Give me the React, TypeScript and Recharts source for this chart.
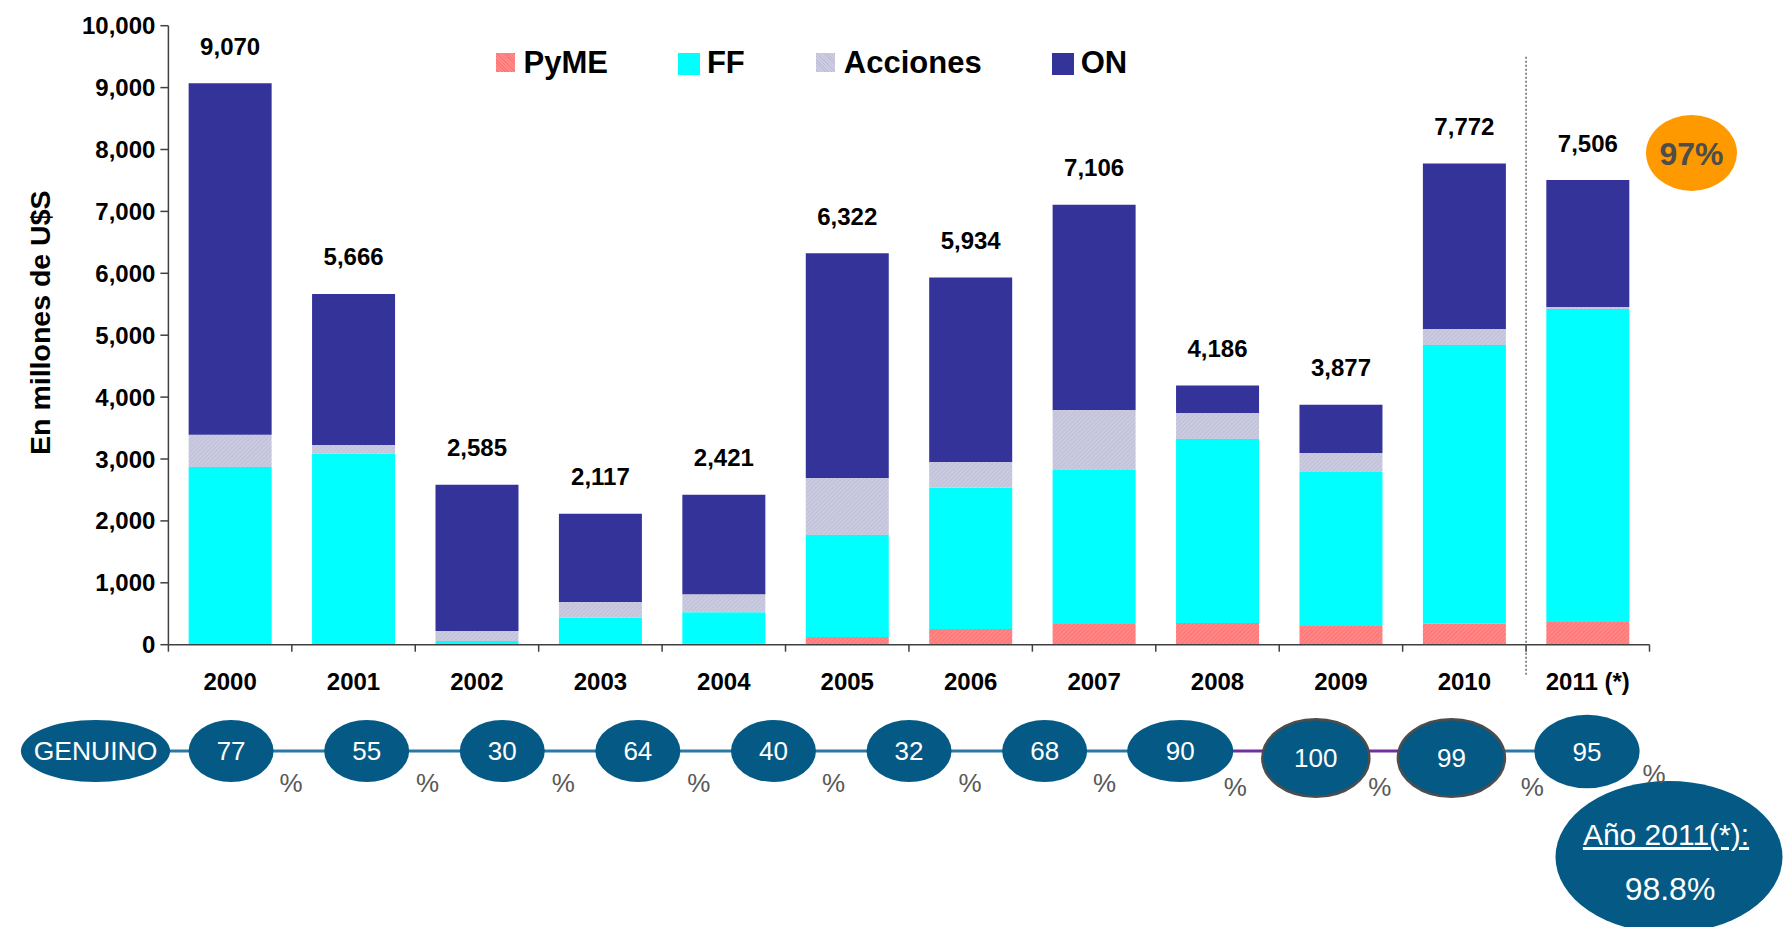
import React from 'react';
import {
  ComposedChart,
  Bar,
  XAxis,
  YAxis,
  LabelList,
  Line,
  Scatter,
} from 'recharts';

// ---------------- data ----------------
const years = ['2000', '2001', '2002', '2003', '2004', '2005', '2006', '2007', '2008', '2009', '2010', '2011 (*)'];
const pyme = [0, 0, 0, 0, 25, 125, 252, 334, 350, 302, 340, 367];
const ff = [2870, 3090, 60, 437, 500, 1647, 2285, 2488, 2973, 2488, 4502, 5056];
const acciones = [520, 135, 160, 253, 290, 921, 415, 969, 420, 307, 258, 32];
const on = [5680, 2441, 2365, 1427, 1606, 3629, 2982, 3315, 443, 780, 2672, 2051];
const totals = [9070, 5666, 2585, 2117, 2421, 6322, 5934, 7106, 4186, 3877, 7772, 7506];
const yTicks = [0, 1000, 2000, 3000, 4000, 5000, 6000, 7000, 8000, 9000, 10000];
const seriesNames = ['PyME', 'FF', 'Acciones', 'ON'];
const yAxisTitle = 'En millones de U$S';

const genuinoLabel = 'GENUINO';
const genuinoPct = [77, 55, 30, 64, 40, 32, 68, 90, 100, 99, 95];
const badge2011 = '97%';
const year2011Title = 'Año 2011(*):';
const year2011Value = '98.8%';

// ---------------- styles ----------------
const FONT = '"Liberation Sans", Arial, Helvetica, sans-serif';
const C_ON = '#333399';
const C_FF = '#00FFFF';
const C_AXIS = '#404040';
const C_BUBBLE = '#045A85';
const C_LINK = '#2A78A6';
const C_LINK2 = '#7030A0';

const BUBBLE_STYLE = [
  { rx: 42.5, ry: 31, dy: 0, border: false, pdx: 60, pdy: 32 },
  { rx: 42.5, ry: 31, dy: 0, border: false, pdx: 61, pdy: 32 },
  { rx: 42.5, ry: 31, dy: 0, border: false, pdx: 61, pdy: 32 },
  { rx: 42.5, ry: 31, dy: 0, border: false, pdx: 61, pdy: 32 },
  { rx: 42.5, ry: 31, dy: 0, border: false, pdx: 60, pdy: 32 },
  { rx: 42.5, ry: 31, dy: 0, border: false, pdx: 61, pdy: 32 },
  { rx: 42.5, ry: 31, dy: 0, border: false, pdx: 60, pdy: 32 },
  { rx: 53, ry: 31, dy: 0, border: false, pdx: 55, pdy: 36 },
  { rx: 53.5, ry: 38.7, dy: 7, border: true, pdx: 64, pdy: 36 },
  { rx: 53.5, ry: 38.7, dy: 7, border: true, pdx: 81, pdy: 36 },
  { rx: 52.6, ry: 36.8, dy: 0.5, border: false, pdx: 67, pdy: 23 },
];

const chartData = years.map((y, i) => ({
  year: y,
  pyme: pyme[i],
  ff: ff[i],
  acciones: acciones[i],
  on: on[i],
  total: totals[i],
}));

const genuinoData = [
  { i: -1, y: 0, kind: 'label', t1: 0, p: null, t2: null },
  ...genuinoPct.map((v, k) => ({
    i: k,
    y: 0,
    kind: 'pct',
    value: v,
    t1: k <= 7 ? 0 : null,
    p: k >= 7 && k <= 9 ? 0 : null,
    t2: k >= 9 ? 0 : null,
  })),
];

const fmt = (v: number) => v.toLocaleString('en-US');

// ---------------- custom pieces ----------------
const XTick = (props: any) => {
  const { x, y, payload, index, visibleTicksCount } = props;
  const half = payload && typeof payload.offset === 'number' && payload.offset > 0 ? payload.offset : 61.7;
  const last = index === visibleTicksCount - 1;
  return (
    <g>
      <line x1={x - half} x2={x - half} y1={y} y2={y + 7} stroke={C_AXIS} strokeWidth={1.5} />
      {last && <line x1={x + half} x2={x + half} y1={y} y2={y + 7} stroke={C_AXIS} strokeWidth={1.5} />}
      {last && (
        <line
          x1={x - half}
          x2={x - half}
          y1={y + 30}
          y2={y - 588}
          stroke="#666"
          strokeWidth={1.5}
          strokeDasharray="2 2"
        />
      )}
      <text
        x={x}
        y={y + 37}
        textAnchor="middle"
        dominantBaseline="central"
        fontFamily={FONT}
        fontWeight={700}
        fontSize={24}
        fill="#000"
      >
        {payload.value}
      </text>
    </g>
  );
};

const TotalLabel = (props: any) => {
  const { x, y, width, value } = props;
  return (
    <text
      x={x + width / 2}
      y={y - 37}
      textAnchor="middle"
      dominantBaseline="central"
      fontFamily={FONT}
      fontWeight={700}
      fontSize={24}
      fill="#000"
    >
      {fmt(value)}
    </text>
  );
};

const YTitle = (props: any) => {
  const vb = props.viewBox || { x: 0, y: 25.7, width: 168, height: 619 };
  const cx = vb.x + 40.5;
  const cy = vb.y + vb.height / 2 - 12.5;
  return (
    <text
      x={cx}
      y={cy}
      transform={`rotate(-90 ${cx} ${cy})`}
      textAnchor="middle"
      dominantBaseline="central"
      fontFamily={FONT}
      fontWeight={700}
      fontSize={28.5}
      fill="#000"
    >
      {yAxisTitle}
    </text>
  );
};

const Bubble = (props: any) => {
  const { cx, cy, payload } = props;
  if (payload.kind === 'label') {
    return (
      <g>
        <ellipse cx={cx} cy={cy} rx={74.6} ry={31} fill={C_BUBBLE} />
        <text
          x={cx}
          y={cy}
          textAnchor="middle"
          dominantBaseline="central"
          fontFamily={FONT}
          fontSize={26.5}
          fill="#fff"
        >
          {genuinoLabel}
        </text>
      </g>
    );
  }
  const s = BUBBLE_STYLE[payload.i] || BUBBLE_STYLE[0];
  return (
    <g>
      <ellipse
        cx={cx}
        cy={cy + s.dy}
        rx={s.rx}
        ry={s.ry}
        fill={C_BUBBLE}
        stroke={s.border ? '#4D4D4D' : 'none'}
        strokeWidth={s.border ? 2.5 : 0}
      />
      <text
        x={cx}
        y={cy + s.dy}
        textAnchor="middle"
        dominantBaseline="central"
        fontFamily={FONT}
        fontSize={26}
        fill="#fff"
      >
        {payload.value}
      </text>
      <text
        x={cx + s.pdx}
        y={cy + s.pdy}
        textAnchor="middle"
        dominantBaseline="central"
        fontFamily={FONT}
        fontSize={26}
        fill="#595959"
      >
        %
      </text>
    </g>
  );
};

const hatch = (base: string, line: string) =>
  `repeating-linear-gradient(45deg, ${base} 0px, ${base} 1.2px, ${line} 1.2px, ${line} 2.4px)`;

const legendItems = [
  { name: seriesNames[0], bg: hatch('#FF8C8C', '#FF7474'), size: 19 },
  { name: seriesNames[1], bg: C_FF, size: 22 },
  { name: seriesNames[2], bg: hatch('#CDCDE3', '#C0C0D8'), size: 19 },
  { name: seriesNames[3], bg: C_ON, size: 22 },
];

export default function App() {
  return (
    <div
      style={{
        position: 'absolute',
        left: 0,
        top: 0,
        width: 1783,
        height: 927,
        overflow: 'hidden',
        background: '#fff',
        fontFamily: FONT,
      }}
    >
      {/* main stacked bar chart */}
      <div style={{ position: 'absolute', left: 0, top: 0 }}>
        <ComposedChart
          width={1783}
          height={927}
          data={chartData}
          margin={{ top: 25.7, right: 133.5, bottom: 252.3, left: 0 }}
          barCategoryGap="16.4%"
        >
          <defs>
            <pattern id="pymePat" width="3" height="3" patternUnits="userSpaceOnUse" patternTransform="rotate(45)">
              <rect width="3" height="3" fill="#FF8C8C" />
              <rect width="1.5" height="3" fill="#FF7474" />
            </pattern>
            <pattern id="accPat" width="3" height="3" patternUnits="userSpaceOnUse" patternTransform="rotate(45)">
              <rect width="3" height="3" fill="#CDCDE3" />
              <rect width="1.5" height="3" fill="#C0C0D8" />
            </pattern>
          </defs>
          <XAxis
            dataKey="year"
            interval={0}
            height={30}
            tickLine={false}
            tickSize={0}
            tickMargin={0}
            axisLine={{ stroke: C_AXIS, strokeWidth: 1.5 }}
            tick={<XTick />}
          />
          <YAxis
            width={168.4}
            domain={[0, 10000]}
            ticks={yTicks}
            interval={0}
            tickFormatter={fmt}
            tickSize={8}
            tickMargin={5}
            tickLine={{ stroke: C_AXIS, strokeWidth: 1.5 }}
            axisLine={{ stroke: C_AXIS, strokeWidth: 1.5 }}
            tick={{ fill: '#000', fontSize: 24, fontWeight: 700, fontFamily: FONT }}
            label={<YTitle />}
          />
          <Bar dataKey="pyme" stackId="a" fill="url(#pymePat)" isAnimationActive={false} />
          <Bar dataKey="ff" stackId="a" fill={C_FF} isAnimationActive={false} />
          <Bar dataKey="acciones" stackId="a" fill="url(#accPat)" isAnimationActive={false} />
          <Bar dataKey="on" stackId="a" fill={C_ON} isAnimationActive={false}>
            <LabelList dataKey="total" content={<TotalLabel />} />
          </Bar>
        </ComposedChart>
      </div>

      {/* legend */}
      <div
        style={{
          position: 'absolute',
          left: 494.5,
          top: 53,
          height: 22,
          display: 'flex',
          alignItems: 'center',
          whiteSpace: 'nowrap',
        }}
      >
        {legendItems.map((it) => (
          <div key={it.name} style={{ display: 'flex', alignItems: 'center', marginRight: 70 }}>
            <div style={{ width: 22, height: 22, display: 'flex', alignItems: 'flex-start', justifyContent: 'center' }}>
              <div style={{ width: it.size, height: it.size, background: it.bg }} />
            </div>
            <span
              style={{
                marginLeft: 7,
                fontSize: 31,
                fontWeight: 700,
                lineHeight: '22px',
                color: '#000',
                position: 'relative',
                top: -1.5,
              }}
            >
              {it.name}
            </span>
          </div>
        ))}
      </div>

      {/* annotation ellipses */}
      <svg
        width={1783}
        height={927}
        style={{ position: 'absolute', left: 0, top: 0, pointerEvents: 'none' }}
      >
        <ellipse cx={1691.5} cy={153} rx={45.5} ry={38} fill="#FF9900" />
        <text
          x={1691.5}
          y={164.5}
          textAnchor="middle"
          fontFamily={FONT}
          fontWeight={700}
          fontSize={32}
          fill="#4D4D4D"
        >
          {badge2011}
        </text>
        <ellipse cx={1669} cy={857} rx={113.5} ry={76} fill={C_BUBBLE} />
        <text
          x={1666}
          y={845}
          textAnchor="middle"
          fontFamily={FONT}
          fontSize={30}
          fill="#fff"
          style={{ textDecoration: 'underline' }}
        >
          {year2011Title}
        </text>
        <text x={1670} y={900} textAnchor="middle" fontFamily={FONT} fontSize={32} fill="#fff">
          {year2011Value}
        </text>
      </svg>

      {/* GENUINO row */}
      <div style={{ position: 'absolute', left: 0, top: 670 }}>
        <ComposedChart
          width={1783}
          height={170}
          data={genuinoData}
          margin={{ top: 50, right: 196, bottom: 58, left: 95.5 }}
        >
          <XAxis dataKey="i" type="number" domain={[-1, 10]} hide />
          <YAxis domain={[-1, 1]} hide />
          <Line dataKey="t1" stroke={C_LINK} strokeWidth={3} dot={false} isAnimationActive={false} connectNulls={false} />
          <Line dataKey="p" stroke={C_LINK2} strokeWidth={3} dot={false} isAnimationActive={false} connectNulls={false} />
          <Line dataKey="t2" stroke={C_LINK} strokeWidth={3} dot={false} isAnimationActive={false} connectNulls={false} />
          <Scatter dataKey="y" shape={<Bubble />} isAnimationActive={false} />
        </ComposedChart>
      </div>
    </div>
  );
}
